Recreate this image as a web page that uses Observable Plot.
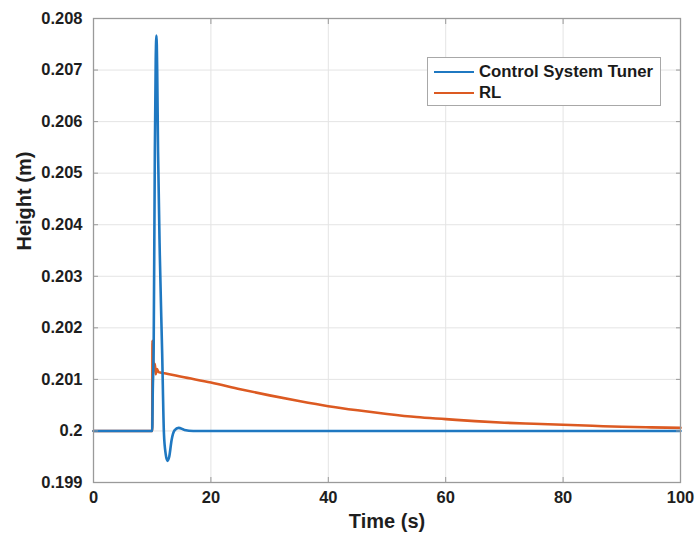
<!DOCTYPE html>
<html>
<head>
<meta charset="utf-8">
<script src="https://cdn.jsdelivr.net/npm/d3@7"></script>
<script src="https://cdn.jsdelivr.net/npm/@observablehq/plot@0.6"></script>
<style>
  html, body { margin: 0; padding: 0; background: #fff; }
  #wrap { position: relative; width: 697px; height: 538px; font-family: "Liberation Sans", Arial, sans-serif; }
  #legend { position: absolute; left: 427px; top: 57px; width: 234px; height: 49px; border: 1px solid #a8a8a8; background: #fff; box-sizing: border-box; font-weight: bold; font-size: 16.8px; color: #1a1a1a; }
  .row { position: absolute; left: 0; height: 20px; display: flex; align-items: center; }
  .sw { width: 40px; height: 0; border-top: 2.6px solid; margin-left: 6px; margin-right: 5px; }
</style>
</head>
<body>
<div id="wrap"></div>
<script>
// Time axis ticks and height axis ticks
const xTicks = [0, 20, 40, 60, 80, 100];
const yTicks = [0.199, 0.2, 0.201, 0.202, 0.203, 0.204, 0.205, 0.206, 0.207, 0.208];
const yTickLabels = ["0.199", "0.2", "0.201", "0.202", "0.203", "0.204", "0.205", "0.206", "0.207", "0.208"];

// Series: Control System Tuner (blue)
const tunerTime   = [0, 10, 10.1, 10.25, 10.45, 10.6, 10.73, 10.85, 11.0, 11.3, 11.7, 12.0, 12.3, 12.6, 12.9, 13.3, 13.8, 14.5, 15.5, 17, 30, 50, 70, 100];
const tunerHeight = [0.2, 0.2, 0.2008, 0.2016, 0.2054, 0.2072, 0.20767, 0.2070, 0.2054, 0.2034, 0.2015, 0.19995, 0.19955, 0.19942, 0.19950, 0.19982, 0.20001, 0.20006, 0.20002, 0.2, 0.2, 0.2, 0.2, 0.2];

// Series: RL (orange)
const rlTime   = [0, 10, 10.05, 10.15, 10.3, 10.45, 10.6, 10.8, 11.1, 11.5, 12.5, 15, 20, 25, 30, 35, 40, 45, 50, 55, 60, 65, 70, 75, 80, 85, 90, 95, 100];
const rlHeight = [0.2, 0.2, 0.20175, 0.20140, 0.20118, 0.20130, 0.20110, 0.20120, 0.20114, 0.20113, 0.20111, 0.20105, 0.20094, 0.20081, 0.20069, 0.20058, 0.20048, 0.20040, 0.20033, 0.20027, 0.20023, 0.20019, 0.20016, 0.20014, 0.20012, 0.20010, 0.20008, 0.20007, 0.20006];

const seriesNames = ["Control System Tuner", "RL"];
const seriesColors = ["#1f78c1", "#dc5a22"];

const tuner = tunerTime.map((t, i) => ({t, h: tunerHeight[i]}));
const rl = rlTime.map((t, i) => ({t, h: rlHeight[i]}));

const axisColor = "#9a9a9a";
const textColor = "#1e1e1e";
const noText = () => "";

const chart = Plot.plot({
  width: 697,
  height: 538,
  marginLeft: 93,
  marginRight: 17,
  marginTop: 18,
  marginBottom: 56,
  style: { fontFamily: "Liberation Sans, Arial, sans-serif", background: "#fff", color: textColor },
  x: { domain: [0, 100], ticks: xTicks },
  y: { domain: [0.199, 0.208], ticks: yTicks },
  marks: [
    Plot.gridX(xTicks, { stroke: "#e4e4e4", strokeOpacity: 1, strokeWidth: 1 }),
    Plot.gridY(yTicks, { stroke: "#e4e4e4", strokeOpacity: 1, strokeWidth: 1 }),
    Plot.line(rl, { x: "t", y: "h", stroke: seriesColors[1], strokeWidth: 2.6, curve: "monotone-x" }),
    Plot.line(tuner, { x: "t", y: "h", stroke: seriesColors[0], strokeWidth: 2.6, curve: "monotone-x" }),
    Plot.frame({ stroke: axisColor, strokeWidth: 1.3 }),
    Plot.axisX(xTicks, { anchor: "bottom", tickSize: -5, stroke: axisColor, tickFormat: noText, label: null }),
    Plot.axisX(xTicks, { anchor: "top", tickSize: -5, stroke: axisColor, tickFormat: noText, label: null }),
    Plot.axisY(yTicks, { anchor: "left", tickSize: -5, stroke: axisColor, tickFormat: noText, label: null }),
    Plot.axisY(yTicks, { anchor: "right", tickSize: -5, stroke: axisColor, tickFormat: noText, label: null }),
    Plot.axisX(xTicks, { anchor: "bottom", tickSize: 0, tickPadding: 9, fontSize: 16.5, fontWeight: "bold", fill: textColor, tickFormat: d => String(d), label: null }),
    Plot.axisY(yTicks, { anchor: "left", tickSize: 0, tickPadding: 11, fontSize: 16.5, fontWeight: "bold", fill: textColor, tickFormat: d => yTickLabels[yTicks.indexOf(d)], label: null }),
    Plot.text(["Time (s)"], { frameAnchor: "bottom", dy: 45, fontSize: 20, fontWeight: "bold", fill: textColor }),
    Plot.text(["Height (m)"], { frameAnchor: "left", dx: -69, rotate: -90, fontSize: 20, fontWeight: "bold", fill: textColor })
  ]
});

const wrap = document.getElementById("wrap");
wrap.appendChild(chart);

const legend = document.createElement("div");
legend.id = "legend";
seriesNames.forEach((name, i) => {
  const row = document.createElement("div");
  row.className = "row";
  row.style.top = (i === 0 ? 4 : 25) + "px";
  const sw = document.createElement("div");
  sw.className = "sw";
  sw.style.borderTopColor = seriesColors[i];
  const lab = document.createElement("span");
  lab.textContent = name;
  row.appendChild(sw);
  row.appendChild(lab);
  legend.appendChild(row);
});
wrap.appendChild(legend);
</script>
</body>
</html>
